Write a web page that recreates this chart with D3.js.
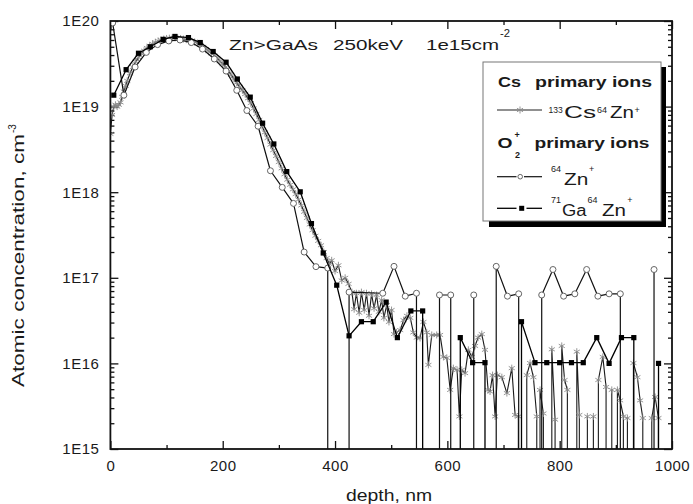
<!DOCTYPE html>
<html><head><meta charset="utf-8">
<script src="https://cdn.jsdelivr.net/npm/d3@7"></script>
<style>
html,body{margin:0;padding:0;background:#fff;}
svg{display:block;}
text{font-family:"Liberation Sans",Arial,sans-serif;fill:#1a1a1a;}
</style></head>
<body>
<svg id="c" width="693" height="504"></svg>
<script>
// ---------------- DATA ----------------
// 133Cs64Zn+ (Cs primary ions), depth nm / concentration cm^-3 (0 = no counts)
const csDepth = [0,3,6,9,12,15,18,21,24,27,30,35,40,45,50,55,60,65,70,75,
  80,85,90,95,100,105,110,115,120,125,130,135,140,145,150,155,160,165,170,175,
  180,185,190,195,200,205,210,215,220,225,230,235,240,245,250,255,260,265,270,275,
  280,285,290,295,300,305,310,315,320,325,330,335,340,345,350,355,360,365,370,375,
  380,385,390,394,400,406,412,418,424,430,434,438,443,447,452,456,460.5,465,469.5,474,
  478,483,487,492,496,500.6,505,509.5,516,522,528,534,539.4,545.5,551.4,557.3,563.3,566.2,572.2,581,
  587,593,599,605,610.7,617.3,621.4,625.6,631.5,637.4,643.5,649.3,654.7,661.3,667,672.5,676,680.5,685,689,
  697,706,714.7,720.6,726.4,730.4,734,741.4,747.3,753.2,759.2,762.4,765,771,775.8,781,786,791.8,797,803.7,
  808.7,813.7,818.5,824,830.5,835,840,845,849.3,854,860,864.8,868.9,876.8,882.6,888,892.8,897.8,902.8,907.6,
  913.4,917.4,920.6,925.4,931.3,938.4,943.2,948,952,957,964,970,975.8,980.6];
const csConc = [4.8e18,8.0e18,1.0e19,1.05e19,1.0e19,1.05e19,1.12e19,1.3e19,1.5e19,1.75e19,2.0e19,2.45e19,2.9e19,3.35e19,3.75e19,4.15e19,4.5e19,4.85e19,5.15e19,5.4e19,
  5.65e19,5.85e19,6.0e19,6.15e19,6.25e19,6.3e19,6.35e19,6.35e19,6.3e19,6.25e19,6.15e19,6.05e19,5.9e19,5.8e19,5.7e19,5.5e19,5.25e19,5.0e19,4.7e19,4.45e19,
  4.2e19,3.95e19,3.7e19,3.4e19,3.15e19,2.9e19,2.6e19,2.35e19,2.1e19,1.9e19,1.7e19,1.55e19,1.4e19,1.25e19,1.1e19,9.5e18,8.2e18,7.0e18,5.9e18,5.0e18,
  4.3e18,3.6e18,3.1e18,2.65e18,2.25e18,1.9e18,1.62e18,1.4e18,1.22e18,1.08e18,9.5e17,8.2e17,7.0e17,5.9e17,5.0e17,4.2e17,3.6e17,3.1e17,2.7e17,2.4e17,
  2.0e17,1.7e17,1.45e17,1.6e17,1.2e17,1.4e17,9.3e16,1.0e17,8.5e16,6.8e16,4.3e16,6.6e16,3.9e16,6.8e16,4.2e16,6.6e16,3.6e16,6.5e16,4.4e16,6.3e16,
  4.0e16,5.5e16,3.4e16,4.8e16,3.05e16,4.2e16,2.2e16,2.3e16,2.45e16,3.2e16,3.6e16,3.4e16,2.3e16,2.0e16,1.98e16,3.05e16,2.3e16,9.6e15,2.15e16,2.15e16,
  2.15e16,1.19e16,1.16e16,4.9e15,8.8e15,8.4e15,2.4e15,8.4e15,7.7e15,1.44e16,1.19e16,1.6e16,2.0e16,2.2e16,1.44e16,4.9e15,4.7e15,7.3e15,2.4e15,7.3e15,
  6.9e15,4.5e15,8.8e15,2.5e15,2.4e15,0,0,7.3e15,1.01e16,6.9e15,2.4e15,0,4.9e15,2.6e15,0,0,1.46e16,2.2e15,0,1.6e16,
  6.4e15,4.9e15,0,0,1.37e16,2.5e15,0,0,2.4e15,0,2.4e15,0,6.4e15,1.19e16,5.3e15,0,4.9e15,0,4.9e15,3.7e15,
  2.4e15,0,2.3e15,0,1.01e16,6.9e15,3.7e15,2.3e15,0,0,2.3e15,4.05e15,2.3e15,0];

// 64Zn+ (O2+ primary ions)
const znDepth = [4,24,44,64,84,104,124,144,164,185,206,225,243,263,285,306,326,345,366,387,
  407,425,485,505,525,545,565,586,606,626,647,667,687,707,727,747,768,788,807,827,
  848,868,888,908,928,948,968,988];
const znConc = [9.5e19,1.36e19,2.9e19,4.3e19,5.3e19,5.85e19,6.0e19,5.6e19,4.7e19,3.6e19,2.6e19,1.55e19,9.0e18,5.9e18,1.78e18,1.14e18,7.4e17,2.0e17,1.35e17,1.3e17,
  0,6.8e16,6.6e16,1.36e17,6.1e16,6.6e16,0,6.3e16,6.3e16,0,6.3e16,0,1.36e17,6.1e16,6.5e16,0,6.3e16,1.25e17,6.1e16,6.5e16,
  1.25e17,6.1e16,6.5e16,6.5e16,0,0,1.25e17,0];

// 71Ga64Zn+ (O2+ primary ions)
const gaDepth = [6,28,50,71,94,115,139,160,183,206,226,249,271,291,314,338,358,379,403,425,
  447,468,491,511,535,556,578,600,623,645,667,689,711,732,756,777,800,821,842,866,
  888,910,932,954,976,998];
const gaConc = [1.36e19,2.7e19,4.2e19,5.0e19,6.1e19,6.6e19,6.4e19,5.6e19,4.4e19,3.3e19,2.1e19,1.29e19,6.4e18,3.66e18,1.74e18,1.01e18,4.3e17,1.95e17,8.2e16,2.1e16,
  3.07e16,3.07e16,5.2e16,2.0e16,4.1e16,4.1e16,0,0,2.0e16,1.02e16,1.02e16,0,0,3.07e16,1.02e16,1.02e16,1.02e16,1.02e16,1.02e16,2.0e16,
  1.0e16,2.0e16,2.0e16,0,1.0e16,0];

const depthMajor = [0,200,400,600,800,1000];
const depthMinor = [100,300,500,700,900];
const concMajor = [1e15,1e16,1e17,1e18,1e19,1e20];
const concLabels = ["1E15","1E16","1E17","1E18","1E19","1E20"];

// ---------------- CHART ----------------
const svg = d3.select("#c");
const L = 110.4, R = 672, T = 21, B = 449;
const x = d3.scaleLinear().domain([0,1000]).range([L,R]);
const y = d3.scaleLog().domain([1e15,1e20]).range([B,T]);

const concMinor = [];
concMajor.slice(0,-1).forEach(d => { for (let k=2;k<10;k++) concMinor.push(d*k); });

svg.append("defs").append("clipPath").attr("id","clip")
  .append("rect").attr("x",L).attr("y",T).attr("width",R-L).attr("height",B-T);

function styleAxis(g){
  g.select(".domain").remove();
  g.selectAll(".tick line").attr("stroke","#111").attr("stroke-width",1.3);
  g.selectAll(".tick text").attr("font-size",15).attr("letter-spacing","0.5px")
   .attr("fill","#1a1a1a").style("font-family",'"Liberation Sans",Arial,sans-serif');
}
svg.append("g").attr("transform",`translate(0,${B})`)
  .call(d3.axisBottom(x).tickValues(depthMajor).tickSize(-8).tickPadding(11).tickFormat(d3.format("d"))).call(styleAxis);
svg.append("g").attr("transform",`translate(0,${B})`)
  .call(d3.axisBottom(x).tickValues(depthMinor).tickSize(-4).tickFormat("")).call(styleAxis);
svg.append("g").attr("transform",`translate(0,${T})`)
  .call(d3.axisTop(x).tickValues(depthMajor).tickSize(-8).tickFormat("")).call(styleAxis);
svg.append("g").attr("transform",`translate(0,${T})`)
  .call(d3.axisTop(x).tickValues(depthMinor).tickSize(-4).tickFormat("")).call(styleAxis);
svg.append("g").attr("transform",`translate(${L},0)`)
  .call(d3.axisLeft(y).tickValues(concMajor).tickSize(-8).tickPadding(11)
  .tickFormat((d,i)=>concLabels[i])).call(styleAxis);
svg.append("g").attr("transform",`translate(${L},0)`)
  .call(d3.axisLeft(y).tickValues(concMinor).tickSize(-4).tickFormat("")).call(styleAxis);
svg.append("g").attr("transform",`translate(${R},0)`)
  .call(d3.axisRight(y).tickValues(concMajor).tickSize(-8).tickFormat("")).call(styleAxis);
svg.append("g").attr("transform",`translate(${R},0)`)
  .call(d3.axisRight(y).tickValues(concMinor).tickSize(-4).tickFormat("")).call(styleAxis);

// series paths: a zero value drops the trace to the bottom axis
function segments(xs, ys){
  const segs = []; let cur = null;
  for (let i=0;i<xs.length;i++){
    if (ys[i] > 0){
      if (!cur){ cur = []; segs.push(cur); if (i>0) cur.push([xs[i], null]); }
      cur.push([xs[i], ys[i]]);
    } else if (cur){ cur.push([xs[i-1], null]); cur = null; }
  }
  return segs;
}
const line = d3.line().x(d => x(d[0])).y(d => d[1] === null ? y(1e15) : y(d[1]));
const plot = svg.append("g").attr("clip-path","url(#clip)");
const starSym = d3.symbolAsterisk || d3.symbolCross;

function drawSeries(xs, ys, lineColor, lw){
  plot.append("g").selectAll("path").data(segments(xs, ys)).join("path")
    .attr("d", line).attr("fill","none").attr("stroke",lineColor)
    .attr("stroke-width",lw).attr("stroke-linejoin","round");
}
function pts(xs, ys){ return xs.map((d,i)=>[d,ys[i]]).filter(d=>d[1]>0); }

drawSeries(csDepth, csConc, "#1a1a1a", 1.1);
plot.append("g").selectAll("path").data(pts(csDepth, csConc)).join("path")
  .attr("transform", d=>`translate(${x(d[0])},${y(d[1])})`)
  .attr("d", d3.symbol().type(starSym).size(34)())
  .attr("fill","none").attr("stroke","#8a8a8a").attr("stroke-width",0.9);

drawSeries(znDepth, znConc, "#111", 1.2);
plot.append("g").selectAll("circle").data(pts(znDepth, znConc)).join("circle")
  .attr("cx", d=>x(d[0])).attr("cy", d=>y(d[1])).attr("r",3)
  .attr("fill","#fff").attr("stroke","#666").attr("stroke-width",1);

drawSeries(gaDepth, gaConc, "#000", 1.3);
plot.append("g").selectAll("rect").data(pts(gaDepth, gaConc)).join("rect")
  .attr("x", d=>x(d[0])-2.6).attr("y", d=>y(d[1])-2.6).attr("width",5.2).attr("height",5.2)
  .attr("fill","#000");

svg.append("rect").attr("x",L).attr("y",T).attr("width",R-L).attr("height",B-T)
  .attr("fill","none").attr("stroke","#111").attr("stroke-width",1.8);

function txt(px, py, s, size, o={}){
  const t = svg.append("text").attr("x",px).attr("y",py).attr("font-size",size).text(s);
  if (o.bold) t.attr("font-weight","bold");
  if (o.len) t.attr("textLength",o.len).attr("lengthAdjust","spacingAndGlyphs");
  if (o.anchor) t.attr("text-anchor",o.anchor);
  return t;
}
// title
txt(229,50,"Zn>GaAs",15,{len:89});
txt(333,50,"250keV",15,{len:70});
txt(426,50,"1e15cm",15,{len:73});
txt(500,37,"-2",10,{len:10});

// axis titles
txt(346,501,"depth, nm",16,{len:86});
svg.append("text").attr("transform","translate(23.5,387) rotate(-90)")
  .attr("font-size",17).attr("textLength",253).attr("lengthAdjust","spacingAndGlyphs")
  .text("Atomic concentration, cm");
svg.append("text").attr("transform","translate(15.5,133) rotate(-90)")
  .attr("font-size",10).text("-3");

// legend
svg.append("rect").attr("x",489).attr("y",67).attr("width",177).attr("height",160).attr("fill","#000");
svg.append("rect").attr("x",483).attr("y",62).attr("width",178).attr("height",159)
  .attr("fill","#fff").attr("stroke","#777").attr("stroke-width",1);

txt(498,87,"Cs",15,{bold:true,len:23});
txt(535,87,"primary ions",15,{bold:true,len:117});

svg.append("line").attr("x1",497).attr("x2",542).attr("y1",110).attr("y2",110)
  .attr("stroke","#222").attr("stroke-width",1.1);
svg.append("path").attr("transform","translate(520,110)")
  .attr("d", d3.symbol().type(starSym).size(34)()).attr("fill","none").attr("stroke","#8a8a8a").attr("stroke-width",0.9);
txt(548.5,112.5,"133",8.5);
txt(564,117.5,"Cs",16,{len:32});
txt(597,112.5,"64",9);
txt(610,117.5,"Zn",16,{len:24});
txt(634.5,113,"+",9);

txt(497.5,147.7,"O",15,{bold:true,len:15});
txt(515,157.5,"2",9,{bold:true});
txt(514.5,138,"+",9,{bold:true});
txt(534.5,147.7,"primary ions",15,{bold:true,len:115});

svg.append("line").attr("x1",497).attr("x2",516.5).attr("y1",176.7).attr("y2",176.7).attr("stroke","#111").attr("stroke-width",1.2);
svg.append("line").attr("x1",524).attr("x2",542).attr("y1",176.7).attr("y2",176.7).attr("stroke","#111").attr("stroke-width",1.2);
svg.append("circle").attr("cx",520.2).attr("cy",176.7).attr("r",2.3).attr("fill","#fff").attr("stroke","#666");
txt(551,171.5,"64",9);
txt(564,184.5,"Zn",16,{len:24.3});
txt(589,172,"+",9);

svg.append("line").attr("x1",497).attr("x2",516.5).attr("y1",208.3).attr("y2",208.3).attr("stroke","#000").attr("stroke-width",1.3);
svg.append("line").attr("x1",526.5).attr("x2",542).attr("y1",208.3).attr("y2",208.3).attr("stroke","#000").attr("stroke-width",1.3);
svg.append("rect").attr("x",519.2).attr("y",205.8).attr("width",5).attr("height",5).attr("fill","#000");
txt(551,202.5,"71",9);
txt(562,215.5,"Ga",16,{len:24.5});
txt(587.5,202.5,"64",9);
txt(602,215.5,"Zn",16,{len:24});
txt(627.3,203,"+",9);
</script>
</body></html>
